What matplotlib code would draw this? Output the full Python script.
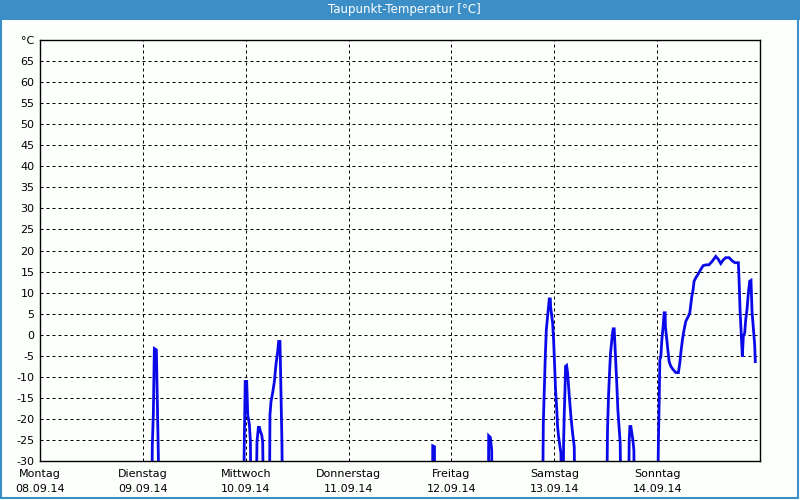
""" taupunkt.py : dew point chart for one week """
import matplotlib
matplotlib.use('Agg')
import matplotlib.pyplot as plt
from matplotlib.patches import Rectangle
import numpy as np

""" data : hours since Monday 00:00 and dew point in degrees C (values below -30 are off chart) """
hours = [
    0.0, 25.98, 26.21, 26.45, 26.68, 27.15, 27.38, 27.61, 27.85,
    47.42, 47.65, 47.88, 48.23, 48.35, 48.47, 48.86, 49.10, 49.28,
    50.33, 50.63, 50.96, 51.19, 51.43, 51.73, 51.96, 52.26,
    53.48, 53.66, 53.90, 54.29, 54.69, 55.06, 55.46, 55.69, 55.99, 56.09, 56.32, 56.46, 56.67,
    91.53, 91.64, 92.04, 92.18,
    104.58, 104.69, 105.09, 105.39, 105.55,
    117.20, 117.44, 117.67, 117.90, 118.14, 118.44, 118.67, 118.83, 119.07, 119.14, 119.37,
    119.61, 119.84, 120.07, 120.30, 120.54, 120.77, 121.00, 121.33, 121.56, 121.80,
    122.03, 122.17, 122.33, 122.50, 122.63, 122.87, 123.10, 123.33, 123.57, 123.89, 124.27, 124.66, 124.89,
    132.12, 132.42, 132.65, 132.89, 133.12, 133.35, 133.59, 133.75, 133.98, 134.14, 134.38,
    134.61, 134.84, 135.15, 135.38, 135.68,
    137.24, 137.48, 137.64, 137.87, 138.11, 138.34, 138.57, 138.81,
    144.00, 144.30, 144.47, 144.63, 144.86, 145.10, 145.40, 145.63, 145.86, 145.93, 146.17,
    146.50, 146.80, 147.19, 147.73, 148.36, 148.96, 149.29, 149.52, 149.90, 150.29, 150.69,
    151.30, 151.62, 151.85, 152.09, 152.39, 152.62, 153.02, 153.62, 154.18, 154.72, 155.49,
    156.12, 156.89, 157.68, 158.28, 158.84, 159.38, 160.01, 160.78, 161.55, 162.17, 162.95,
    163.11, 163.34, 163.65, 163.88, 164.11, 164.43, 164.67, 164.97, 165.28, 165.60, 165.90,
    166.14, 166.44, 166.76, 166.90,
]
dew_point = [
    -50, -50, -26.2, -18.6, -3.3, -3.6, -16.0, -28.6, -50,
    -50, -26.9, -11.1, -11.1, -15.0, -19.0, -21.4, -25.4, -50,
    -50, -25.4, -22.0, -22.0, -23.0, -23.8, -25.4, -50,
    -50, -19.0, -15.9, -13.8, -11.1, -7.1, -4.0, -1.6, -1.6, -6.4, -19.0, -26.2, -50,
    -50, -26.4, -26.6, -50,
    -50, -24.0, -24.4, -27.4, -50,
    -50, -21.0, -13.1, -5.2, 1.2, 4.4, 6.7, 8.5, 8.5, 6.7, 4.8,
    2.8, -1.2, -7.5, -13.1, -17.1, -21.8, -24.2, -26.6, -28.2, -50,
    -50, -25.8, -18.6, -13.1, -7.5, -7.3, -9.0, -12.3, -15.5, -19.5, -23.4, -26.6, -50,
    -50, -22.6, -14.7, -9.1, -4.4, -2.0, 0.4, 1.4, 1.4, -2.0, -6.7,
    -12.3, -17.9, -22.6, -25.8, -50,
    -50, -25.0, -21.8, -21.8, -23.4, -25.0, -27.4, -50,
    -50, -25.0, -16.3, -6.0, -5.2, -1.2, 2.0, 5.2, 5.2, 2.0, -0.4,
    -3.6, -6.4, -7.5, -8.3, -9.0, -9.0, -6.7, -4.4, -1.2, 1.2, 3.2,
    4.4, 5.2, 7.1, 9.1, 10.7, 12.7, 13.5, 14.5, 15.5, 16.4, 16.6,
    16.6, 17.5, 18.6, 17.9, 16.9, 17.7, 18.3, 18.3, 17.5, 17.1, 17.1,
    13.1, 6.0, -0.4, -5.2, -0.4, 0.4, 3.6, 6.0, 9.9, 12.7, 12.9,
    5.5, 1.6, -2.4, -6.4,
]

day_names = ['Montag', 'Dienstag', 'Mittwoch', 'Donnerstag', 'Freitag', 'Samstag', 'Sonntag']
day_dates = ['08.09.14', '09.09.14', '10.09.14', '11.09.14', '12.09.14', '13.09.14', '14.09.14']
y_ticks = list(range(-30, 70, 5))

title = 'Taupunkt-Temperatur [°C]'
frame_blue = '#3c8fc6'
bg = '#fcfffc'

fig = plt.figure(figsize=(8, 5), dpi=100, facecolor=bg)

# title bar and frame
fig.patches.append(Rectangle((0, 0.96), 1, 0.04, transform=fig.transFigure,
                             facecolor=frame_blue, edgecolor='none', zorder=0))
fig.patches.append(Rectangle((0.001, 0.005), 0.996, 0.995, transform=fig.transFigure,
                             facecolor='none', edgecolor=frame_blue, linewidth=1.5, zorder=1))
fig.text(0.506, 0.98, title, color='white', fontsize=8.5, ha='center', va='center')

ax = fig.add_axes([0.05, 0.078, 0.90, 0.842])
ax.set_facecolor(bg)
ax.plot(hours, dew_point, color='#0a0ae8', linewidth=2.0, solid_joinstyle='miter')

ax.set_xlim(0, 168)
ax.set_ylim(-30, 70)

# grid
for d in range(1, 7):
    ax.axvline(d * 24, color='black', linewidth=0.72, dashes=(3, 3), zorder=0)
for v in y_ticks[1:]:
    ax.axhline(v, color='black', linewidth=0.72, dashes=(3, 3), zorder=0)

ax.set_yticks(y_ticks + [70])
ax.set_yticklabels([str(v) for v in y_ticks] + ['°C'])
ax.tick_params(axis='y', length=0, pad=4, labelsize=8)

ax.set_xticks([d * 24 for d in range(7)])
ax.set_xticklabels([n + '\n' + dt for n, dt in zip(day_names, day_dates)], linespacing=1.6)
ax.tick_params(axis='x', length=0, pad=6, labelsize=8)

for s in ax.spines.values():
    s.set_linewidth(1.0)

fig.savefig('out.png', dpi=100, facecolor=bg)
